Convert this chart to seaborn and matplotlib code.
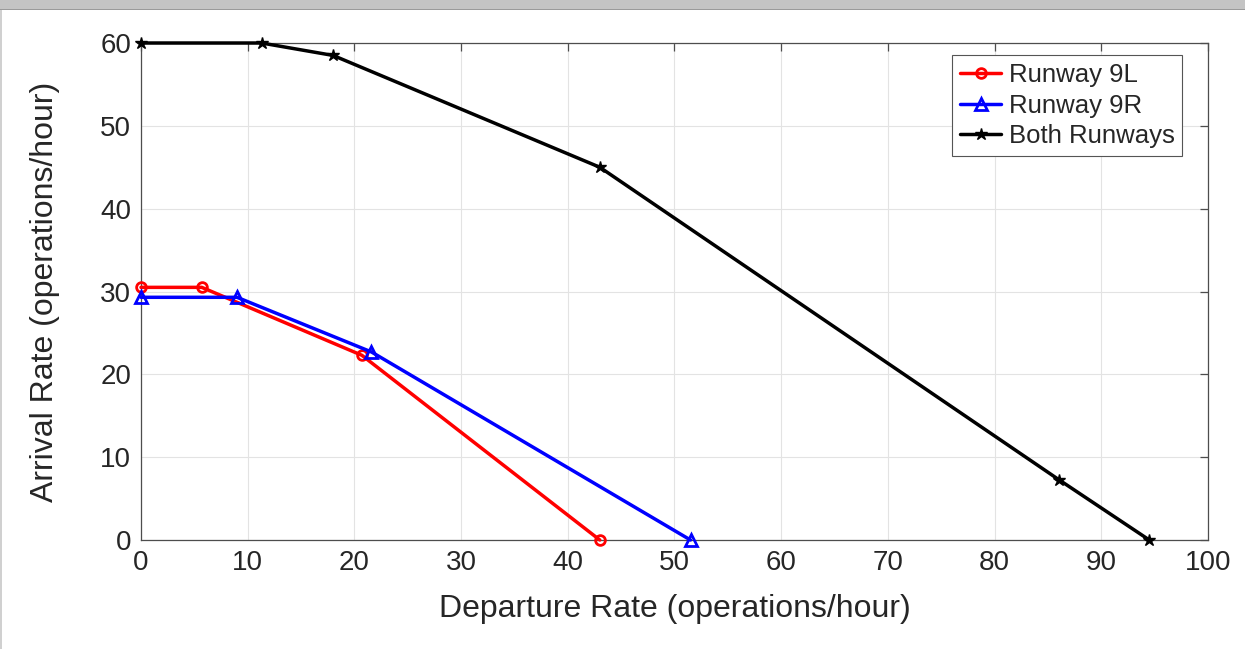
import matplotlib
matplotlib.use("Agg")
import matplotlib.pyplot as plt
import seaborn as sns
import pandas as pd
from matplotlib.patches import Rectangle

# data
dep_9l = [0, 5.7, 20.7, 43.0]
arr_9l = [30.5, 30.5, 22.3, 0]
dep_9r = [0, 9.0, 21.6, 51.5]
arr_9r = [29.3, 29.3, 22.7, 0]
dep_both = [0, 11.3, 18.0, 43.0, 86.0, 94.5]
arr_both = [60, 60, 58.5, 45.0, 7.3, 0]

series_names = ["Runway 9L", "Runway 9R", "Both Runways"]
x_ticks = list(range(0, 101, 10))
y_ticks = list(range(0, 61, 10))

sns.set_style("white")
plt.rcParams['font.family'] = ['Liberation Sans', 'DejaVu Sans']

fig = plt.figure(figsize=(12.45, 6.49), dpi=100)
ax = fig.add_axes([141 / 1245, 1 - 540 / 649, (1208 - 141) / 1245, (540 - 43) / 649])

# grey band at the top of the window
fig.patches.append(Rectangle((0, 1 - 9 / 649), 1, 9 / 649, transform=fig.transFigure,
                             facecolor='#c4c4c4', edgecolor='none', zorder=0))
fig.patches.append(Rectangle((0, 1 - 10 / 649), 1, 1.2 / 649, transform=fig.transFigure,
                             facecolor='#9a9a9a', edgecolor='none', zorder=0))
fig.patches.append(Rectangle((0, 0), 1.5 / 1245, 1 - 10 / 649, transform=fig.transFigure,
                             facecolor='#d0d0d0', edgecolor='none', zorder=0))

df_9l = pd.DataFrame({"x": dep_9l, "y": arr_9l})
df_9r = pd.DataFrame({"x": dep_9r, "y": arr_9r})
df_both = pd.DataFrame({"x": dep_both, "y": arr_both})

sns.lineplot(data=df_9l, x="x", y="y", ax=ax, sort=False, color='red', lw=2.5,
             marker='o', markersize=7, markerfacecolor='none', markeredgecolor='red',
             markeredgewidth=2, label=series_names[0], clip_on=False, zorder=3)
sns.lineplot(data=df_9r, x="x", y="y", ax=ax, sort=False, color='blue', lw=2.5,
             marker='^', markersize=8, markerfacecolor='none', markeredgecolor='blue',
             markeredgewidth=2, label=series_names[1], clip_on=False, zorder=3)
sns.lineplot(data=df_both, x="x", y="y", ax=ax, sort=False, color='black', lw=2.5,
             marker='*', markersize=9, markerfacecolor='black', markeredgecolor='black',
             markeredgewidth=1, label=series_names[2], clip_on=False, zorder=3)

ax.set_xlim(0, 100)
ax.set_ylim(0, 60)
ax.set_xticks(x_ticks)
ax.set_yticks(y_ticks)
ax.grid(True, color='#e3e3e3', linewidth=0.8)
ax.set_axisbelow(True)
for sp in ax.spines.values():
    sp.set_color('#4d4d4d')
    sp.set_linewidth(0.9)
ax.tick_params(direction='in', length=6, width=0.9, colors='#4d4d4d', labelcolor='#262626',
               labelsize=20, top=True, right=True, pad=7)

ax.set_xlabel("Departure Rate (operations/hour)", fontsize=23, color='#262626', labelpad=13)
ax.set_ylabel("Arrival Rate (operations/hour)", fontsize=23, color='#262626', labelpad=29)

leg = ax.legend(loc='upper right', bbox_to_anchor=(0.976, 0.975), fontsize=18.5,
                frameon=True, fancybox=False, edgecolor='#555555', framealpha=1,
                handlelength=1.6, handletextpad=0.3, borderpad=0.3, labelspacing=0.25,
                borderaxespad=0)
leg.get_frame().set_linewidth(0.8)

fig.savefig("out.png", dpi=100)
